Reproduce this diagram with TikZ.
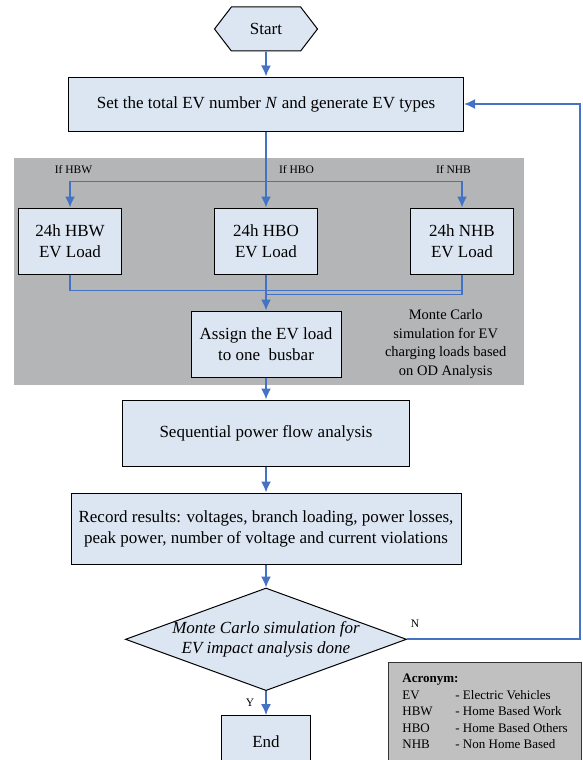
\documentclass[tikz,border=0pt]{standalone}
\usepackage{fontspec}
\setmainfont{Liberation Serif}
\usepackage{tikz}
\usetikzlibrary{positioning, arrows.meta, calc, shapes.geometric, shapes.symbols}

\definecolor{boxfill}{HTML}{DCE6F2}
\definecolor{flowblue}{HTML}{4472C4}
\definecolor{panelgray}{HTML}{B4B5B7}
\definecolor{acrogray}{HTML}{C0C0C0}

\begin{document}
\begin{tikzpicture}
	% Define styles
	\tikzset{
		block/.style={rectangle, draw, line width=1pt, fill=boxfill, align=center, inner sep=2pt, font=\fontsize{17}{21}\selectfont},
		terminal/.style={signal, signal to=west and east, signal pointer angle=105, draw, line width=1pt, fill=boxfill, minimum width=103pt, minimum height=44pt, font=\fontsize{17}{21}\selectfont},
		decision/.style={diamond, draw, line width=1pt, fill=boxfill, aspect=2.74, inner xsep=-2pt, inner ysep=0pt, align=center, font=\fontsize{17}{20}\selectfont\itshape},
		line/.style={draw=flowblue, line width=1.7pt, -{Latex[length=11pt, width=10pt]}},
		wire/.style={draw=flowblue, line width=1.7pt},
		tag/.style={inner sep=1pt, font=\fontsize{11.5}{13}\selectfont},
		note/.style={align=center, font=\fontsize{14.5}{18.7}\selectfont},
		acro/.style={rectangle, draw=black!80, line width=1.1pt, fill=acrogray, anchor=north west, minimum width=193pt, minimum height=100pt, inner sep=0pt, font=\fontsize{13}{16.5}\selectfont}
	}
	\useasboundingbox (0,0) rectangle (583pt,-760pt);
	
	% Background panel
	\fill[panelgray] (14pt,-158pt) rectangle (524pt,-385pt);
	
	% Nodes
	\node[terminal] (start) at (266pt,-29pt) {Start};
	\node[block, below=25pt of start, minimum width=395pt, minimum height=54pt] (setn) {Set the total EV number \textit{N} and generate EV types};
	
	\node[block, below=76pt of setn, minimum width=103pt, minimum height=66pt] (hbo) {24h HBO\\EV Load};
	\node[block, left=92pt of hbo, minimum width=103pt, minimum height=66pt] (hbw) {24h HBW\\EV Load};
	\node[block, right=92pt of hbo, minimum width=103pt, minimum height=66pt] (nhb) {24h NHB\\EV Load};
	
	\node[tag, above=33pt of hbw.north, xshift=3.5pt] (ifhbw) {If HBW};
	\node[tag, above=33pt of hbo.north, xshift=30.5pt] (ifhbo) {If HBO};
	\node[tag, above=33pt of nhb.north, xshift=-8.5pt] (ifnhb) {If NHB};
	
	\node[block, below=36pt of hbo, minimum width=150pt, minimum height=66pt] (assign) {Assign the EV load\\to one\ \ busbar};
	\node[note, right=40pt of assign] (mcnote) {Monte Carlo\\simulation for EV\\charging loads based\\on OD Analysis};
	
	\node[block, below=22pt of assign, minimum width=287pt, minimum height=66pt] (seq) {Sequential power flow analysis};
	\node[block, below=26pt of seq, minimum width=390pt, minimum height=71pt] (record) {Record results: voltages, branch loading, power losses,\\peak power, number of voltage and current violations};
	\node[decision, below=23pt of record] (decide) {Monte Carlo simulation for\\EV impact analysis done};
	\node[block, below=24pt of decide, minimum width=89pt, minimum height=52pt] (stop) {End};
	
	\node[acro] (acronyms) at (388pt,-662pt) {%
		\begin{tabular}{@{}p{53pt}@{}l@{}}
			\multicolumn{2}{@{}l@{}}{\textbf{Acronym:}}\\
			EV  & - Electric Vehicles\\
			HBW & - Home Based Work\\
			HBO & - Home Based Others\\
			NHB & - Non Home Based
		\end{tabular}};
	
	% Arrows
	\coordinate[above=26pt of hbo.north] (split);
	\coordinate[below=16pt of hbw.south] (mergew);
	\coordinate[below=20pt of nhb.south] (mergen);
	
	\draw[line] (start) -- (setn);
	\draw[line] (setn) -- (hbo);
	\draw[line] (split) -| (hbw);
	\draw[line] (split) -| (nhb);
	
	\draw[wire] (hbw) |- (mergew -| nhb.south);
	\draw[wire] (nhb) |- (mergen -| hbo.south);
	\draw[line] (hbo) -- (assign);
	
	\draw[line] (assign) -- (seq);
	\draw[line] (seq) -- (record);
	\draw[line] (record) -- (decide);
	\draw[line] (decide) -- node[tag, left=10pt] (ylabel) {Y} (stop);
	\draw[line] (decide.east) -- node[tag, pos=0, above right=10pt and 2pt] (nlabel) {N} ++(173pt,0) |- (setn.east);
	
\end{tikzpicture}
\end{document}
